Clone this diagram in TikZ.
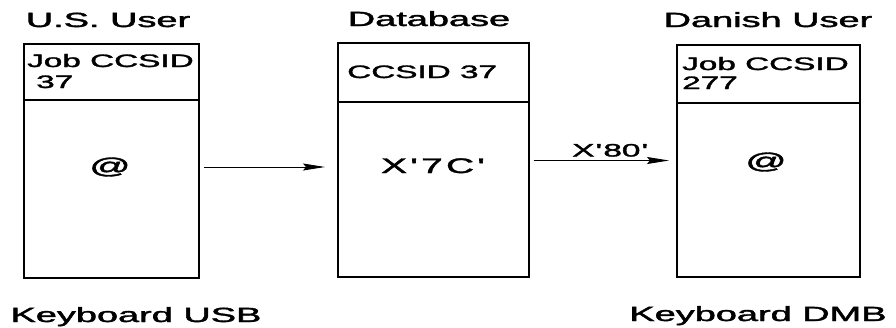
\documentclass[tikz,border=0pt]{standalone}
\usepackage{fontspec}
\usepackage{graphicx}
\setmainfont{Liberation Sans}[FakeBold=1.6]
\usetikzlibrary{arrows.meta}
% all lettering is set wide
\newcommand{\widetxt}[1]{\scalebox{1.85}[1]{#1}}
\newcommand{\q}{\textquotesingle}
\begin{document}
\begin{tikzpicture}[x=1pt,y=-1pt,
  panel/.style={draw, line width=1.7pt, rectangle, inner sep=0pt, anchor=north west},
  heading/.style={inner sep=0pt, anchor=base, font=\fontsize{20.5}{22}\selectfont},
  cell/.style={inner sep=0pt, anchor=base west, font=\fontsize{18}{20}\selectfont},
  glyph/.style={inner sep=0pt, font=\fontsize{18}{20}\selectfont},
  bigglyph/.style={inner sep=0pt, font=\fontsize{21}{23}\selectfont},
  atsign/.style={inner sep=0pt, font=\fontsize{22}{24}\selectfont},
  flow/.style={line width=0.9pt, -{Stealth[length=22pt,width=7pt,inset=3pt]}}]
\useasboundingbox (0,0) rectangle (896,327);

% the three panels
\node[panel, minimum width=175pt, minimum height=234pt] (us) at (23,43) {};
\node[panel, minimum width=191pt, minimum height=234pt] (db) at (337,42) {};
\node[panel, minimum width=183pt, minimum height=232pt] (dk) at (676,44) {};

% header rows
\draw[line width=1.7pt] ([yshift=-57pt]us.north west) -- ([yshift=-57pt]us.north east);
\draw[line width=1.7pt] ([yshift=-60pt]db.north west) -- ([yshift=-60pt]db.north east);
\draw[line width=1.7pt] ([yshift=-59pt]dk.north west) -- ([yshift=-59pt]dk.north east);

% headings above and keyboards below
\node[heading] (ust) at (108,27) {\widetxt{U.S. User}};
\node[heading] (dbt) at (429,26) {\widetxt{Database}};
\node[heading] (dkt) at (768,27) {\widetxt{Danish User}};
\node[heading] (usk) at (136,322) {\widetxt{Keyboard USB}};
\node[heading] (dkk) at (758,321) {\widetxt{Keyboard DMB}};

% header texts
\node[cell] (usj) at (27,67) {\widetxt{Job CCSID}};
\node[cell] (usn) at (36,88) {\widetxt{37}};
\node[cell] (dbc) at (347,78) {\widetxt{CCSID 37}};
\node[cell] (dkj) at (682,70) {\widetxt{Job CCSID}};
\node[cell] (dkn) at (682,89) {\widetxt{277}};

% panel contents
\node[atsign] (usat) at (110,167) {\widetxt{@}};
\node[bigglyph, anchor=base] (dbx) at (433,173) {\widetxt{X\kern1.8pt\q\kern1.8pt7\kern1.8ptC\kern1.8pt\q}};
\node[atsign] (dkat) at (766,162) {\widetxt{@}};

% transfers
\draw[flow, shorten <=4pt, shorten >=12pt] (us.east |- usat) -- (db.west |- usat);
\draw[flow, shorten <=4pt, shorten >=7pt] ([yshift=1.5pt]db.east |- dkat) -- node[glyph, anchor=base, pos=0.55, yshift=4pt] (hex) {\widetxt{X\kern0.7pt\q\kern0.7pt80\kern0.7pt\q}} ([yshift=1.5pt]dk.west |- dkat);
\end{tikzpicture}
\end{document}
